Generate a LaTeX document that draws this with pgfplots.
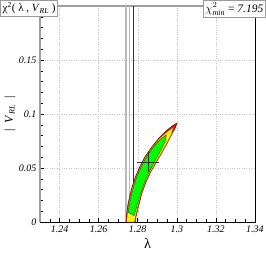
\documentclass[border=0pt]{standalone}
\usepackage{fontspec}
\setmainfont{Liberation Serif}
\usepackage{pgfplots}
\pgfplotsset{compat=1.18}
\definecolor{outl}{RGB}{110,25,10}
\definecolor{gline}{RGB}{40,90,20}
\begin{document}
\begin{tikzpicture}
\useasboundingbox (0,0) rectangle (266pt,253pt);
\begin{axis}[at={(40pt,31pt)}, anchor=south west, scale only axis,
  width=215pt, height=216pt,
  xmin=1.23, xmax=1.34, ymin=0, ymax=0.2,
  xtick={1.24,1.26,1.28,1.3,1.32,1.34},
  ytick={0,0.05,0.1,0.15},
  minor xtick={1.235,1.245,1.25,1.255,1.265,1.27,1.275,1.285,1.29,1.295,1.305,1.31,1.315,1.325,1.33,1.335},
  minor ytick={0.01,0.02,0.03,0.04,0.06,0.07,0.08,0.09,0.11,0.12,0.13,0.14,0.16,0.17,0.18,0.19},
  xticklabels={\textit{1.24},\textit{1.26},\textit{1.28},\textit{1.3},\textit{1.32},\textit{1.34}},
  yticklabels={\textit{0},\textit{0.05},\textit{0.1},\textit{0.15}},
  tick align=inside, xtick pos=bottom, ytick pos=left,
  major tick length=4pt, minor tick length=2.5pt,
  tick style={black, line width=0.5pt},
  grid=major, major grid style={dotted, gray!45, line width=0.45pt},
  axis line style={draw=none},
  /pgf/number format/assume math mode=true,
  clip=false,
]
% frame
\draw[gray!75, line width=1.6pt] (rel axis cs:0,0) -- (rel axis cs:0,1) -- (rel axis cs:1,1);
\draw[black, line width=0.8pt] (rel axis cs:0,0) -- (rel axis cs:1,0) -- (rel axis cs:1,1);
% vertical lines
\addplot[gray!55, line width=1.3pt] coordinates {(1.2740,0) (1.2740,0.2)};
\addplot[gray!55, line width=1.3pt] coordinates {(1.2757,0) (1.2757,0.2)};
\addplot[gray!40!black, line width=0.8pt] coordinates {(1.2778,0) (1.2778,0.2)};
% outer (red)
\addplot[fill=red, draw=outl, line width=0.7pt] coordinates {
(1.2740,0) (1.2744,0.008) (1.2750,0.016) (1.2759,0.024) (1.2772,0.033) (1.2789,0.042) (1.2810,0.051) (1.2836,0.060) (1.2870,0.069) (1.2910,0.078) (1.2950,0.085) (1.2978,0.089) (1.3000,0.0915)
(1.2994,0.088) (1.2976,0.082) (1.2953,0.074) (1.2926,0.065) (1.2897,0.056) (1.2868,0.047) (1.2842,0.037) (1.2820,0.026) (1.2803,0.014) (1.2791,0.005) (1.2787,0)
} -- cycle;
% yellow
\addplot[fill=yellow, draw=outl!80, line width=0.4pt] coordinates {
(1.2743,0) (1.2747,0.008) (1.2753,0.016) (1.2762,0.024) (1.2775,0.033) (1.2792,0.042) (1.2813,0.051) (1.2839,0.060) (1.2873,0.069) (1.2913,0.0775) (1.2950,0.0835) (1.2983,0.0878)
(1.2972,0.081) (1.2950,0.0735) (1.2923,0.0645) (1.2894,0.0555) (1.2865,0.0465) (1.2839,0.0365) (1.2817,0.0255) (1.2800,0.0135) (1.2788,0.004) (1.2784,0)
} -- cycle;
% green
\addplot[fill=green, draw=gline, line width=0.5pt] coordinates {
(1.2751,0.009) (1.2757,0.016) (1.2766,0.024) (1.2779,0.033) (1.2796,0.042) (1.2817,0.051) (1.2844,0.060) (1.2878,0.069) (1.2916,0.0765) (1.2946,0.0805)
(1.2942,0.0755) (1.2917,0.066) (1.2888,0.0565) (1.2860,0.047) (1.2835,0.037) (1.2813,0.026) (1.2796,0.015) (1.2782,0.006)
} -- cycle;
% best-fit cross
\addplot[black!80, line width=0.5pt] coordinates {(1.2797,0.0554) (1.2908,0.0554)};
\addplot[black!80, line width=0.5pt] coordinates {(1.2853,0.0464) (1.2853,0.0644)};
\end{axis}
\node at (147.5pt,10pt) {\Large λ};
\node[rotate=90] at (10pt,139pt) {\large |\ \ \textit{V}\textsubscript{\textit{RL}}\ \ |};
\node[draw=gray!80, fill=white, anchor=north west, inner sep=2pt, minimum height=14pt, line width=0.6pt, font=\fontsize{11}{13}\selectfont] at (0.4pt,252.6pt)
  {χ\textsuperscript{2}( λ , \textit{V}\textsubscript{\textit{RL}} )};
\node[draw=gray!80, fill=white, anchor=north east, inner sep=2pt, minimum height=15pt, line width=0.6pt, font=\fontsize{11.5}{13}\selectfont] at (265.6pt,252.6pt)
  {$\chi^{2}_{\mathit{min}}$ = \textit{7.195}};
\end{tikzpicture}
\end{document}
